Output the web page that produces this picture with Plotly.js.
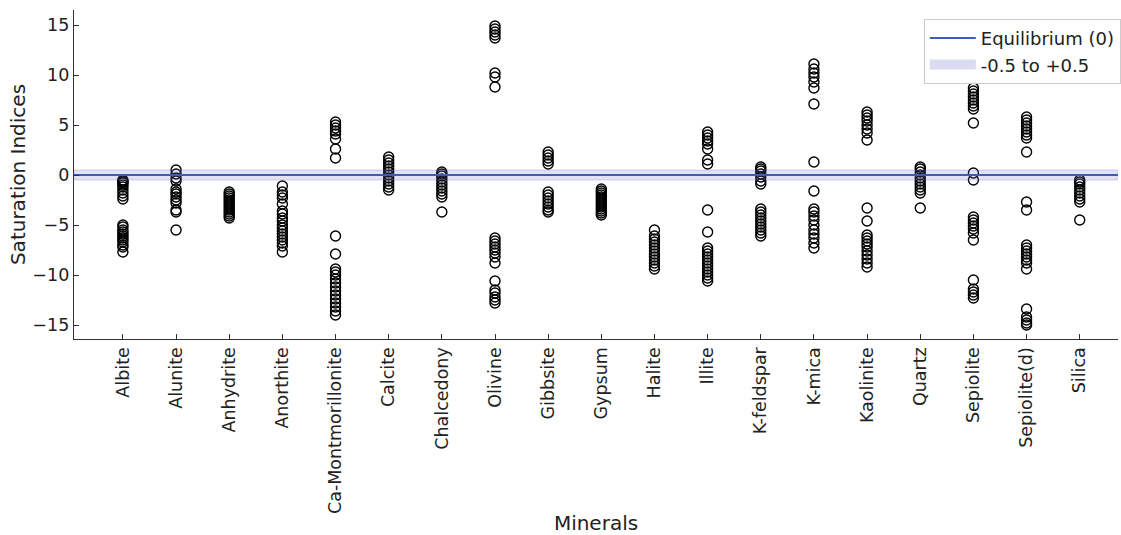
<!DOCTYPE html>
<html>
<head>
<meta charset="utf-8">
<script src="https://cdn.plot.ly/plotly-3.0.1.min.js"></script>
<style>html,body{margin:0;padding:0;background:#fff;}#chart{width:1121px;height:535px;}</style>
</head>
<body>
<div id="chart"></div>
<script>
const minerals = ["Albite","Alunite","Anhydrite","Anorthite","Ca-Montmorillonite","Calcite","Chalcedony","Olivine","Gibbsite","Gypsum","Halite","Illite","K-feldspar","K-mica","Kaolinite","Quartz","Sepiolite","Sepiolite(d)","Silica"];

const albite = [-0.5,-0.6,-0.7,-0.8,-1.0,-1.2,-1.5,-1.8,-2.1,-2.4,-5.0,-5.2,-5.5,-5.7,-5.9,-6.1,-6.3,-6.5,-6.7,-7.0,-7.2,-7.7];
const alunite = [0.5,0.1,-0.3,-0.6,-1.4,-1.7,-1.9,-2.2,-2.5,-2.8,-3.5,-3.7,-5.5];
const anhydrite = [-1.7,-1.9,-2.1,-2.3,-2.5,-2.7,-2.9,-3.1,-3.3,-3.5,-3.7,-3.9,-4.1,-4.3];
const anorthite = [-1.1,-1.7,-2.0,-2.3,-2.9,-3.6,-3.9,-4.3,-4.6,-5.0,-5.3,-5.6,-5.9,-6.2,-6.5,-6.8,-7.1,-7.7];
const caMontmorillonite = [5.3,5.0,4.7,4.4,4.1,3.6,2.6,1.7,-6.1,-7.9,-9.4,-9.7,-10.0,-10.4,-10.8,-11.2,-11.6,-12.0,-12.4,-12.8,-13.2,-13.6,-14.0];
const calcite = [1.8,1.5,1.2,0.9,0.6,0.3,0.0,-0.3,-0.6,-0.9,-1.2,-1.5];
const chalcedony = [0.3,0.1,-0.1,-0.4,-0.7,-1.0,-1.3,-1.6,-1.9,-2.2,-3.7];
const olivine = [14.9,14.6,14.3,14.0,13.7,10.2,9.8,8.8,-6.3,-6.6,-6.9,-7.2,-7.5,-7.8,-8.2,-8.8,-10.6,-11.5,-11.8,-12.2,-12.5,-12.8];
const gibbsite = [2.3,2.0,1.7,1.4,1.1,-1.7,-2.0,-2.3,-2.6,-2.9,-3.2,-3.5,-3.7];
const gypsum = [-1.4,-1.6,-1.8,-2.0,-2.2,-2.4,-2.6,-2.8,-3.0,-3.2,-3.4,-3.6,-3.8,-4.0];
const halite = [-5.5,-6.1,-6.4,-6.7,-7.0,-7.3,-7.6,-7.9,-8.2,-8.5,-8.8,-9.1,-9.4];
const illite = [4.3,4.0,3.7,3.4,3.1,2.6,1.5,1.1,-3.5,-5.7,-7.3,-7.6,-7.9,-8.2,-8.5,-8.8,-9.1,-9.4,-9.7,-10.0,-10.3,-10.6];
const kFeldspar = [0.8,0.6,0.4,0.1,-0.2,-0.6,-0.9,-3.4,-3.7,-4.0,-4.3,-4.6,-4.9,-5.2,-5.5,-5.8,-6.1];
const kMica = [11.1,10.6,10.2,9.8,9.3,8.7,7.1,1.3,-1.6,-3.4,-3.7,-4.1,-4.5,-5.0,-5.5,-5.9,-6.3,-6.8,-7.3];
const kaolinite = [6.3,6.0,5.7,5.4,5.0,4.6,4.2,3.5,-3.3,-4.6,-6.0,-6.3,-6.6,-6.9,-7.2,-7.6,-8.0,-8.4,-8.8,-9.2];
const quartz = [0.8,0.6,0.3,0.0,-0.3,-0.6,-0.9,-1.2,-1.5,-1.8,-3.3];
const sepiolite = [8.7,8.4,8.1,7.8,7.5,7.2,6.9,6.6,5.2,0.2,-0.5,-4.2,-4.5,-4.8,-5.1,-5.4,-5.8,-6.5,-10.5,-11.4,-11.7,-12.0,-12.3];
const sepioliteD = [5.8,5.5,5.2,4.9,4.6,4.3,4.0,3.7,2.3,-2.7,-3.5,-7.0,-7.3,-7.6,-7.9,-8.2,-8.5,-8.8,-9.4,-13.4,-14.2,-14.5,-14.8,-15.0];
const silica = [-0.5,-0.7,-0.9,-1.2,-1.5,-1.8,-2.1,-2.4,-2.7,-4.5];

const seriesValues = [albite,alunite,anhydrite,anorthite,caMontmorillonite,calcite,chalcedony,olivine,gibbsite,gypsum,halite,illite,kFeldspar,kMica,kaolinite,quartz,sepiolite,sepioliteD,silica];

const equilibrium = 0;
const bandLow = -0.5, bandHigh = 0.5;
const yTicks = [-15,-10,-5,0,5,10,15];

const xs = [], ys = [];
minerals.forEach((m, i) => seriesValues[i].forEach(v => { xs.push(m); ys.push(v); }));

const font = "DejaVu Sans, sans-serif";
const bandFill = "rgba(110,110,200,0.2)";

const traces = [
  {type: "scatter", mode: "lines", xaxis: "x2", yaxis: "y", fill: "toself",
   x: [0, 1, 1, 0, 0], y: [bandLow, bandLow, bandHigh, bandHigh, bandLow],
   fillcolor: bandFill, line: {width: 1, color: "rgba(110,110,200,0.28)"},
   hoverinfo: "skip", showlegend: false},
  {type: "scatter", mode: "lines", xaxis: "x2", yaxis: "y",
   x: [0, 1], y: [equilibrium, equilibrium], name: "Equilibrium (0)",
   line: {width: 2, color: "#3a5bbf"}, hoverinfo: "skip", legendrank: 1},
  {type: "scatter", mode: "lines", xaxis: "x2", yaxis: "y",
   x: [null], y: [null], name: "-0.5 to +0.5",
   line: {width: 12, color: "rgba(110,110,200,0.25)"}, hoverinfo: "skip", legendrank: 2},
  {type: "scatter", mode: "markers", x: xs, y: ys, showlegend: false,
   marker: {symbol: "circle-open", size: 10, color: "#000", line: {width: 1.4, color: "#000"}},
   hoverinfo: "x+y"}
];

const layout = {
  width: 1121, height: 535,
  margin: {l: 74, r: 0, t: 10, b: 196},
  paper_bgcolor: "#fff", plot_bgcolor: "#fff",
  font: {family: font, color: "#222", size: 17},
  xaxis: {
    type: "category", categoryorder: "array", categoryarray: minerals,
    range: [-0.92, 18.72],
    showgrid: false, zeroline: false, showline: true, linecolor: "#333", linewidth: 1.2,
    ticks: "inside", ticklen: 5, tickcolor: "#333", tickangle: -90,
    tickfont: {family: font, size: 17.5, color: "#222"},
    title: {text: "Minerals", font: {family: font, size: 20, color: "#222"}, standoff: 3}
  },
  xaxis2: {overlaying: "x", range: [0, 1], visible: false, fixedrange: true},
  yaxis: {
    range: [-16.4, 16.5], tickvals: yTicks,
    showgrid: false, zeroline: false, showline: true, linecolor: "#333", linewidth: 1.2,
    ticks: "inside", ticklen: 5, tickcolor: "#333",
    tickfont: {family: font, size: 17.5, color: "#222"},
    title: {text: "Saturation Indices", font: {family: font, size: 20, color: "#222"}, standoff: 1}
  },
  legend: {
    x: 0.814, y: 0.973, xanchor: "left", yanchor: "top",
    bgcolor: "rgba(255,255,255,0.9)", bordercolor: "#ccc", borderwidth: 1,
    font: {family: font, size: 18, color: "#222"},
    itemwidth: 46
  },
  showlegend: true
};

Plotly.newPlot("chart", traces, layout, {displayModeBar: false, staticPlot: true});
</script>
</body>
</html>
